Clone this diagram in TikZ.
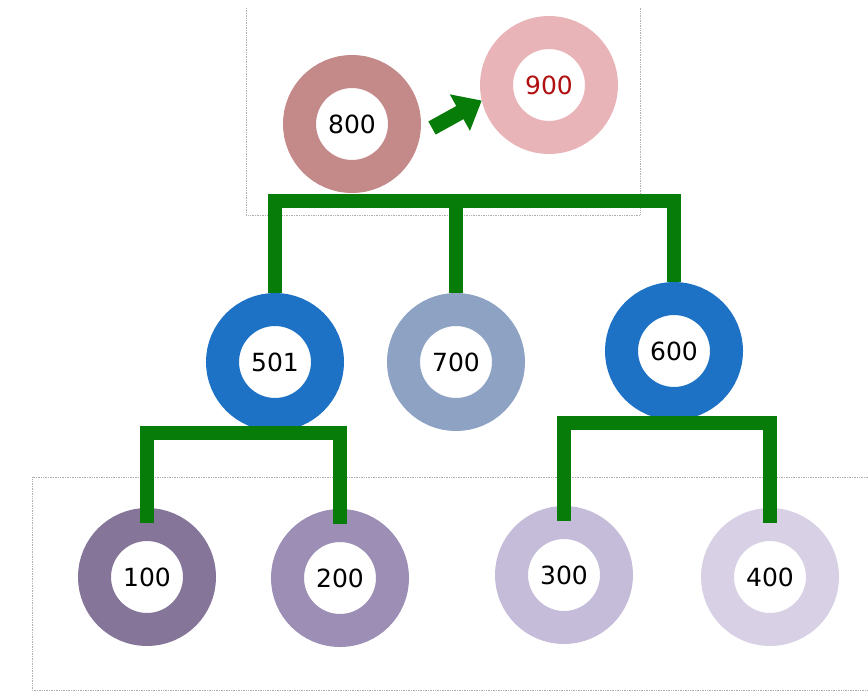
\documentclass[tikz,border=0pt]{standalone}
\usepackage{fontspec}
\setmainfont{DejaVu Sans}
\usetikzlibrary{arrows.meta,calc}
\definecolor{cgreen}{RGB}{8,124,8}
\definecolor{c800}{RGB}{196,138,138}
\definecolor{c900}{RGB}{232,180,184}
\definecolor{cblue}{RGB}{30,114,198}
\definecolor{c700}{RGB}{142,162,196}
\definecolor{c100}{RGB}{133,118,153}
\definecolor{c200}{RGB}{156,142,180}
\definecolor{c300}{RGB}{196,188,216}
\definecolor{c400}{RGB}{216,208,228}
\definecolor{cred}{RGB}{176,16,16}
\definecolor{frame}{RGB}{175,175,175}
\tikzset{
  ring/.style={circle, draw=#1, line width=33pt, fill=white, minimum size=105pt,
    inner sep=0pt, outer sep=16.5pt, font=\fontsize{25}{29}\selectfont},
  conn/.style={draw=cgreen, line width=14pt, line join=miter},
  bigarrow/.style={draw=cgreen, line width=15pt, -{Triangle[length=25pt,width=40pt]}},
  frameline/.style={draw=frame, densely dotted, line width=0.7pt}
}
\begin{document}
\begin{tikzpicture}[x=1pt,y=-1pt]
\useasboundingbox (0,0) rectangle (868,693);
% frames
\draw[frameline] (246,8) -- (246,215) -- (640,215) -- (640,8);
\draw[frameline] (868,477) -- (32,477) -- (32,690) -- (868,690);
% nodes
\node[ring=c800] (n800) at (352,124) {800};
\node[ring=c900, text=cred] (n900) at (549,85) {900};
\node[ring=cblue] (n501) at (275,362) {501};
\node[ring=c700] (n700) at (456,362) {700};
\node[ring=cblue] (n600) at (674,351) {600};
\node[ring=c100] (n100) at (147,577) {100};
\node[ring=c200] (n200) at (340,578) {200};
\node[ring=c300] (n300) at (564,575) {300};
\node[ring=c400] (n400) at (770,577) {400};
% junctions
\coordinate (jtop) at (456,201);
\coordinate (j501) at (275,433);
\coordinate (j600) at (674,423);
% connectors
\draw[conn] (n501.north) |- (jtop) -| (n600.north);
\draw[conn] (jtop) -- (n700.north);
\draw[conn] ($(n100.north)+(0,15)$) |- (j501) -| ($(n200.north)+(0,15)$);
\draw[conn] (n501.south) -- (j501);
\draw[conn] ($(n300.north)+(0,15)$) |- (j600) -| ($(n400.north)+(0,15)$);
\draw[conn] (n600.south) -- (j600);
% arrow
\draw[bigarrow] ($(n800.center)+(80,4)$) -- (n900.193);
\end{tikzpicture}
\end{document}
